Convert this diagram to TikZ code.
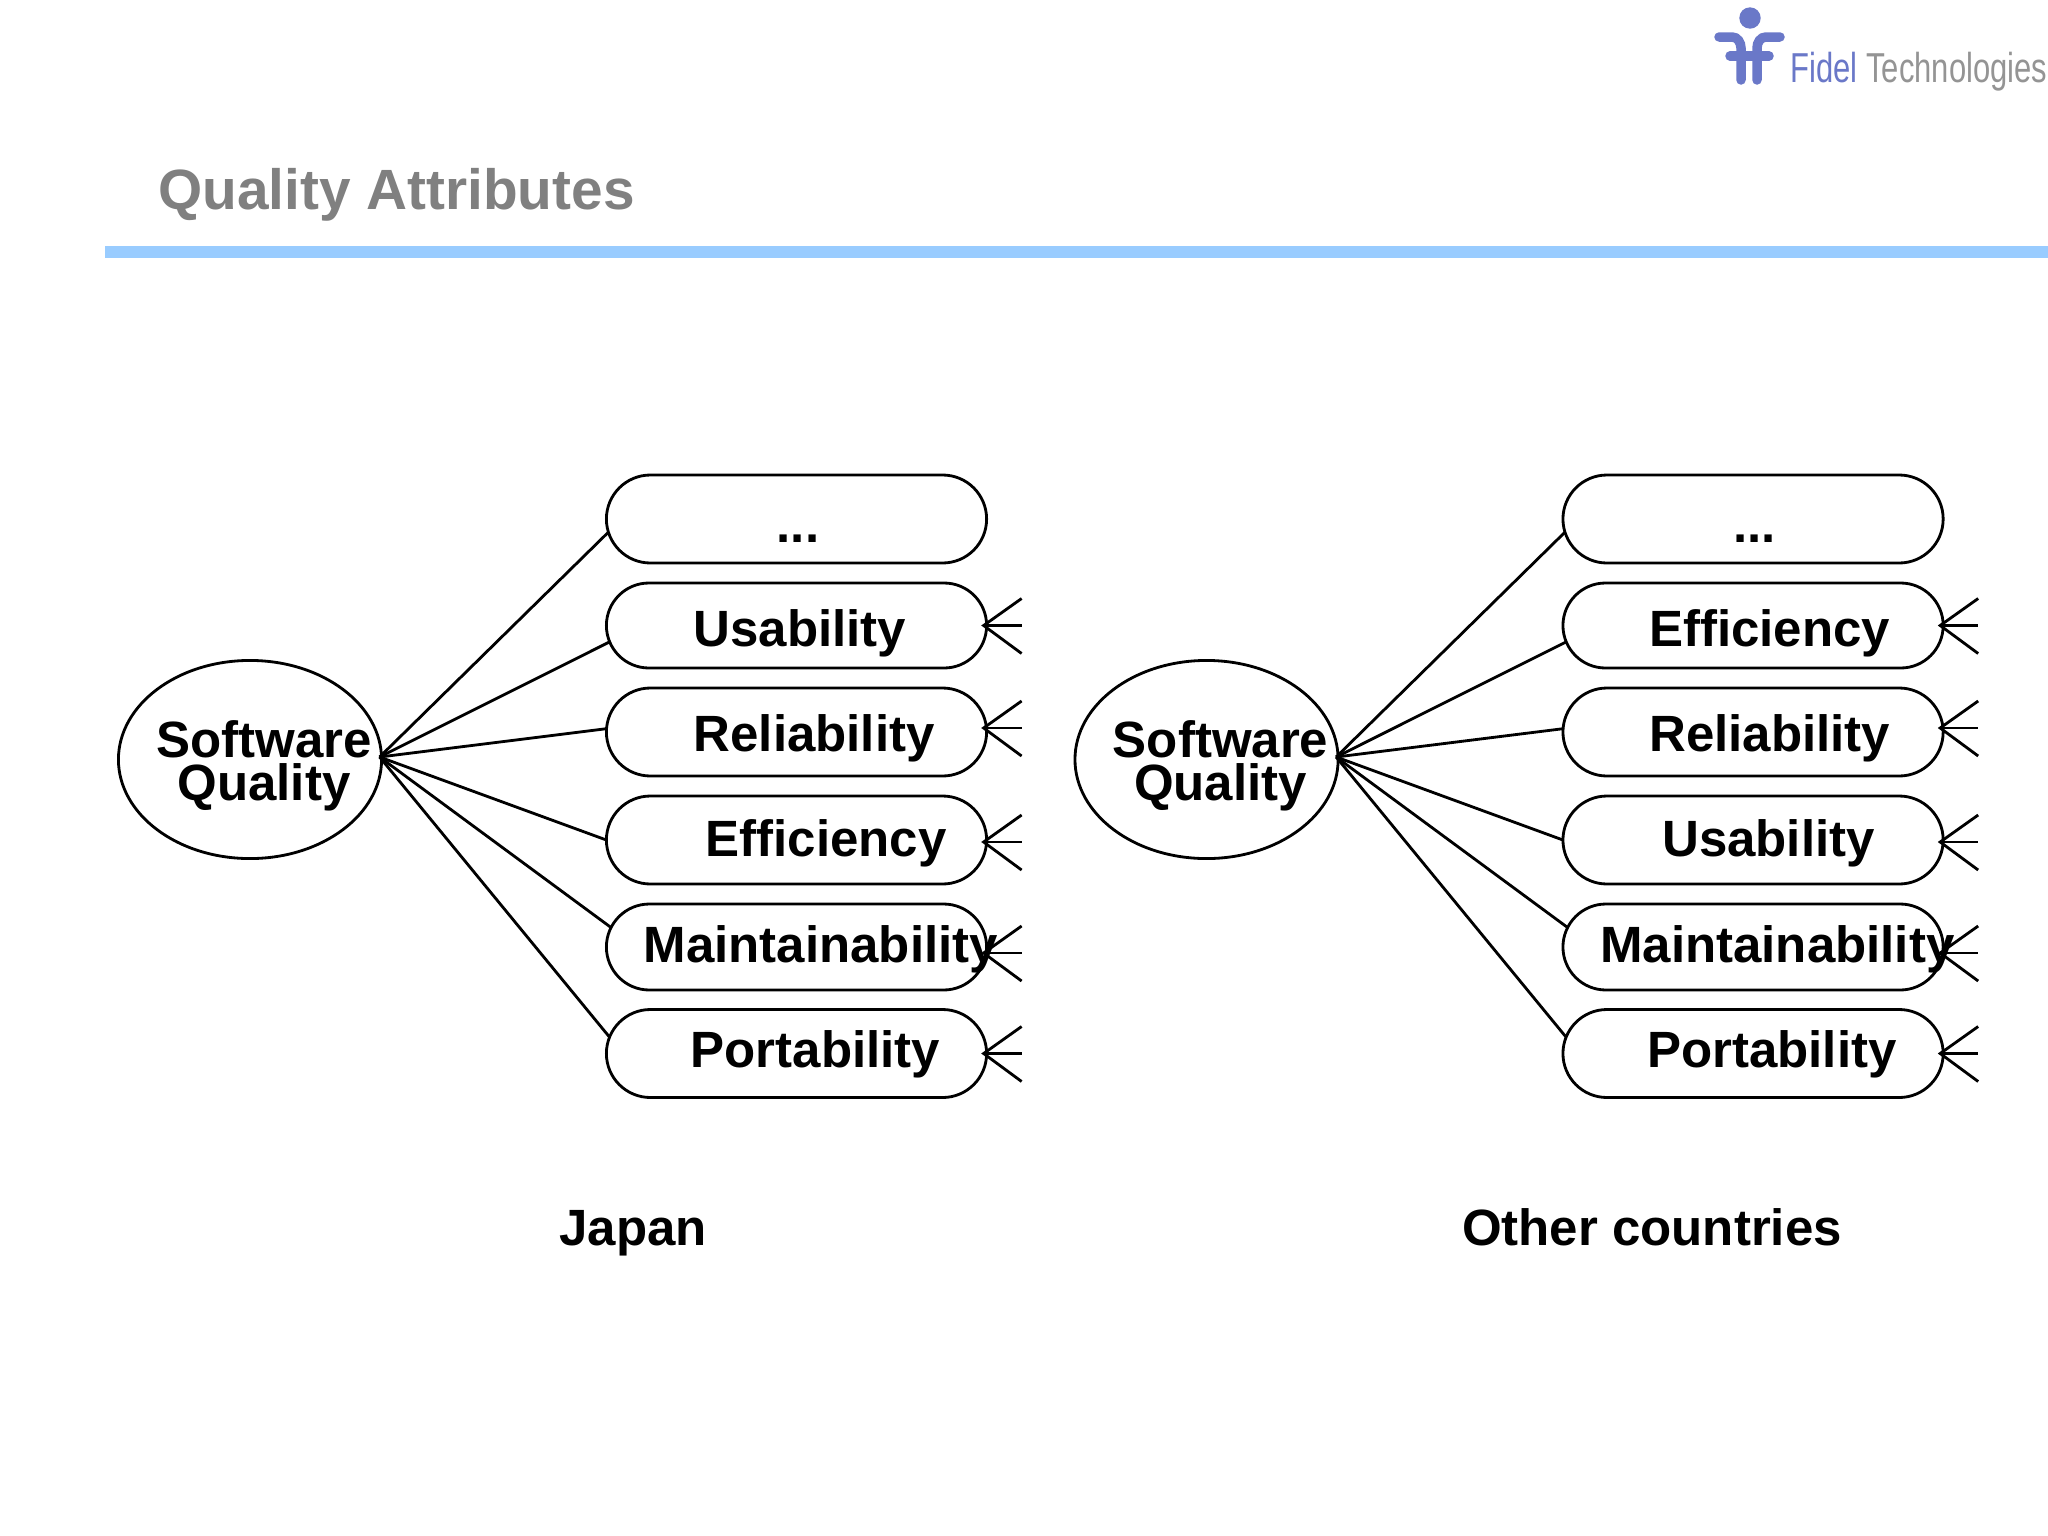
\documentclass[tikz,border=0pt]{standalone}
\usepackage{fontspec}
\setmainfont{Liberation Sans}
\newfontfamily\logofont[FakeStretch=0.74]{Liberation Sans}
\usetikzlibrary{calc,positioning,shapes.geometric,shapes.misc}

\definecolor{birulogo}{HTML}{6A78C8}
\definecolor{abulogo}{HTML}{949494}
\definecolor{birugaris}{HTML}{99CCFF}
\definecolor{abujudul}{HTML}{808080}

\tikzset{
	garis/.style={black,line width=.8pt},
	kotak/.style={draw=black,line width=.8pt,rounded rectangle,inner sep=0pt,outer sep=0pt,minimum width=3.8cm},
	lonjong/.style={draw=black,line width=.8pt,ellipse,inner sep=0pt,outer sep=0pt,minimum width=2.63cm,minimum height=1.98cm},
	teks/.style={inner sep=0pt,anchor=base west,font=\fontsize{14.5}{12}\selectfont\bfseries},
	logoline/.style={birulogo,line width=2.7pt,line cap=round}
}

\newcommand{\titik}{...}

% crow foot on the right of a box
\newcommand{\cakar}[2]
	{
	\coordinate (tempa) at ($(#1.east)+(-3,#2)$);
	\coordinate (tempb) at ($(tempa)+(38,-27)$);
	\coordinate (tempc) at ($(tempa)+(38,0)$);
	\coordinate (tempd) at ($(tempa)+(38,28)$);
	\draw[garis] (tempb) -- (tempa) -- (tempd);
	\draw[garis] (tempa) -- (tempc);
	}

% one whole group: #1 prefix, #2 shift in cm, #3 labels (baseline/left/text)
\newcommand{\kelompok}[3]
	{
	\begin{scope}[xshift=#2cm]
	\node[lonjong] (#1sq) at (250,759.5) {};
	\coordinate (#1hub) at ($(#1sq.east)+(-2,-2.5)$);
	\node[teks,anchor=base,align=center] (#1sqt) at (264,800) {Software\\Quality};
	\foreach \i/\by/\tinggi/\sudut in {1/519/88/184,2/625.5/85/185,3/732/88/179,4/840/88/180,5/947/86/174,6/1053.5/88/175.3}
		{
		\node[kotak,minimum height=\tinggi*.01cm] (#1b\i) at (796.5,\by) {};
		\draw[garis] (#1hub) -- (#1b\i.\sudut);
		}
	\foreach \by/\tx/\isi [count=\i] in {#3}
		{\node[teks] (#1t\i) at (\tx,\by) {\isi};}
	\foreach \i/\dy in {2/0,3/-4,4/2,5/6,6/0}
		{\cakar{#1b\i}{\dy}}
	\end{scope}
	}

\begin{document}
\begin{tikzpicture}[x=.01cm,y=-.01cm]
\useasboundingbox (0,0) rectangle (2048,1536);

% logo
\fill[birulogo] (1750,18) circle (10.7);
\draw[logoline] (1719,37) -- (1732,37) to[out=0,in=90] (1741,48) -- (1741,80);
\draw[logoline] (1780,37) -- (1766,37) to[out=180,in=90] (1757,48) -- (1757,80);
\draw[logoline] (1730,56) -- (1769,56);
\node[inner sep=0pt,anchor=base west,font=\logofont\fontsize{11.9}{14}\selectfont] (logotext) at (1790,82) {\textcolor{birulogo}{Fidel} \textcolor{abulogo}{Technologies}};

% judul
\node[inner sep=0pt,anchor=base west,text=abujudul,font=\fontsize{16.15}{19}\selectfont\bfseries] (title) at (157.5,209) {Quality Attributes};
\fill[birugaris] (105,245.5) rectangle (2048,258);

% kedua kelompok
\kelompok{a}{0}{542/776/\titik,646/693/Usability,751/693/Reliability,856/705/Efficiency,962/643/Maintainability,1067/690/Portability}
\kelompok{c}{9.56}{542/776/\titik,646/692/Efficiency,751/692/Reliability,856/705/Usability,962/643/Maintainability,1067/690/Portability}

\node[teks,anchor=base] (japan) at (633,1245) {Japan};
\node[teks,anchor=base] (other) at (1652,1245) {Other countries};

\end{tikzpicture}
\end{document}
